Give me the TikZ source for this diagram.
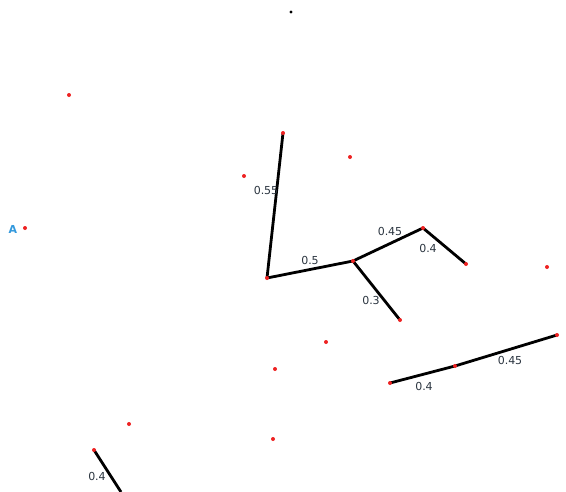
\documentclass[tikz,border=0pt]{standalone}
\usepackage{fontspec}
\setmainfont{DejaVu Sans}
\definecolor{lbl}{HTML}{2B3540}
\definecolor{alab}{HTML}{3399DD}
\definecolor{dotred}{HTML}{EE2222}
\begin{document}
\begin{tikzpicture}[x=1pt,y=-1pt,
  pt/.style={circle,fill=dotred,inner sep=0pt,minimum size=4pt},
  edge/.style={line width=2.8pt,black},
  lab/.style={text=lbl,font=\fontsize{11}{13}\selectfont,inner sep=0pt}]
\useasboundingbox (0,0) rectangle (566,491);
\fill[white] (0,0) rectangle (566,491);
% edges
\coordinate (p1) at (283,133);
\coordinate (p2) at (267,278);
\coordinate (p3) at (353,261);
\coordinate (p4) at (423,228);
\coordinate (p5) at (466,264);
\coordinate (p6) at (400,320);
\coordinate (q1) at (390,383);
\coordinate (q2) at (455,366);
\coordinate (q3) at (557,335);
\coordinate (r1) at (94,450);
\coordinate (r2) at (121,492);
\draw[edge] (p1) -- (p2);
\draw[edge] (p2) -- (p3);
\draw[edge] (p3) -- (p4);
\draw[edge] (p4) -- (p5);
\draw[edge] (p3) -- (p6);
\draw[edge] (q1) -- (q2);
\draw[edge] (q2) -- (q3);
\draw[edge] (r1) -- (r2);
% dots
\foreach \n/\x/\y in {d1/69/95,d2/244/176,d3/350/157,d4/283/133,d5/25/228,d6/267/278,d7/353/261,d8/423/228,d9/466/264,d10/547/267,d11/400/320,d12/326/342,d13/275/369,d14/390/383,d15/455/366,d16/557/335,d17/129/424,d18/273/439,d19/94/450}
  \node[pt] (\n) at (\x,\y) {};
\node[circle,fill=black,inner sep=0pt,minimum size=3.2pt] (top) at (291,12) {};
% labels
\node[lab] (l1) at (266,190) {0.55};
\node[lab] (l2) at (310,260) {0.5};
\node[lab] (l3) at (390,231) {0.45};
\node[lab] (l4) at (428,248) {0.4};
\node[lab] (l5) at (371,300) {0.3};
\node[lab] (l6) at (424,386) {0.4};
\node[lab] (l7) at (510,360) {0.45};
\node[lab] (l8) at (97,476) {0.4};
\node[text=alab,font=\fontsize{11}{13}\selectfont\bfseries,inner sep=0pt] (A) at (13,229) {A};
\end{tikzpicture}
\end{document}
